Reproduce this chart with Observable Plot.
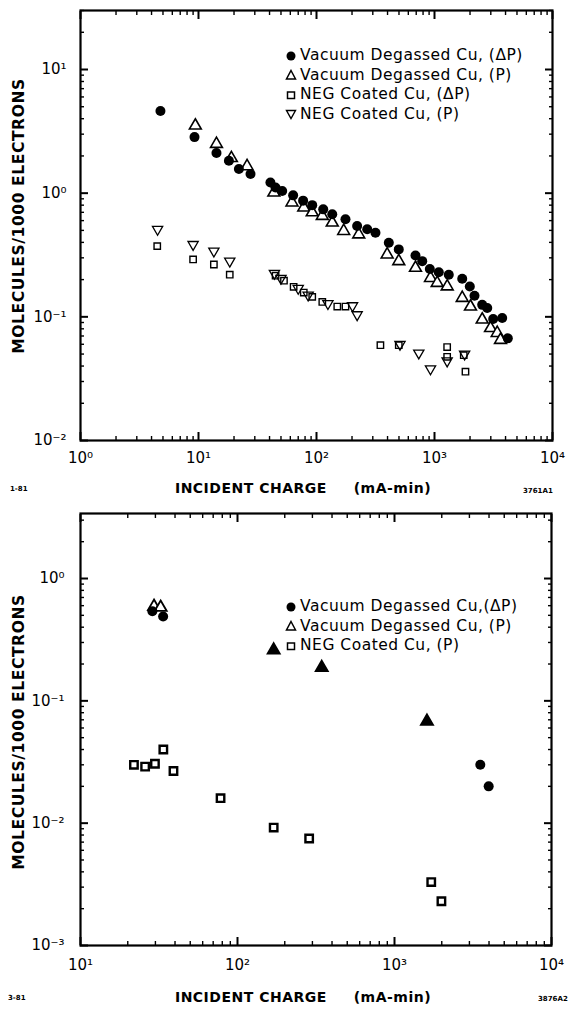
<!DOCTYPE html>
<html><head><meta charset="utf-8">
<script src="https://cdn.jsdelivr.net/npm/d3@7"></script>
<script src="https://cdn.jsdelivr.net/npm/@observablehq/plot@0.6"></script>
<style>
body{margin:0;background:#fff;}
#wrap{position:relative;width:569px;height:1010px;overflow:hidden;font-family:"DejaVu Sans",sans-serif;color:#000;background:#fff}
.panel{position:absolute;left:0}
.legend{position:absolute;font-size:15.5px;letter-spacing:0.5px;line-height:19.5px;white-space:nowrap}
.legend div{display:flex;align-items:center}
.legend svg{margin-right:3px;flex:none}
.ytitle{position:absolute;font-weight:bold;font-size:15.5px;letter-spacing:0.6px;white-space:nowrap;transform:translate(-50%,-50%) rotate(-90deg)}
.xtitle{position:absolute;font-weight:bold;font-size:14px;letter-spacing:0.5px;white-space:pre;transform:translate(-50%,-50%)}
.tag{position:absolute;font-size:7px;font-weight:bold;transform:translate(0,-50%)}
</style></head>
<body><div id="wrap"></div>
<script>
// ---------- data: top panel ----------
const topVacDeltaP = [[4.76,4.62],[9.25,2.84],[14.2,2.11],[18.1,1.83],[22.0,1.57],[27.6,1.43],[40.7,1.22],[44.9,1.11],[51.2,1.04],[63.4,0.96],[77,0.87],[92,0.80],[114,0.74],[136,0.675],[176,0.615],[221,0.542],[269,0.51],[316,0.479],[410,0.397],[498,0.351],[690,0.313],[787,0.282],[913,0.244],[1087,0.229],[1321,0.219],[1718,0.203],[1992,0.176],[2183,0.148],[2537,0.125],[2798,0.118],[3142,0.096],[3748,0.098],[4180,0.067]];
const topVacP = [[9.4,3.52],[14.2,2.50],[19,1.92],[25.8,1.65],[43.5,1.01],[62,0.84],[78,0.765],[92,0.70],[112,0.654],[136,0.578],[170,0.494],[228,0.464],[397,0.319],[498,0.282],[690,0.249],[925,0.206],[1054,0.188],[1282,0.176],[1718,0.142],[2018,0.121],[2537,0.095],[2985,0.081],[3400,0.074],[3625,0.065]];
const topNegDeltaP = [[4.47,0.373],[9.0,0.291],[13.5,0.265],[18.4,0.219],[45,0.215],[53,0.196],[64,0.175],[78,0.157],[92,0.145],[112,0.132],[150,0.121],[176,0.121],[348,0.059],[498,0.059],[1280,0.057],[1280,0.0475],[1770,0.049],[1830,0.036]];
const topNegP = [[4.5,0.51],[9.0,0.385],[13.5,0.34],[18.4,0.282],[44,0.225],[50,0.205],[70,0.17],[85,0.15],[125,0.128],[202,0.123],[221,0.104],[510,0.06],[736,0.051],[925,0.038],[1280,0.044],[1800,0.05]];
// ---------- data: bottom panel ----------
const botVacDeltaP = [[28.7,0.54],[33.6,0.49],[3520,0.030],[3980,0.020]];
const botVacP = [[29.4,0.59],[32.4,0.58],[170,0.26],[344,0.187],[1610,0.068]];
const botNegP = [[21.9,0.030],[25.8,0.029],[29.8,0.0306],[33.7,0.040],[39.1,0.0267],[78,0.016],[170,0.0092],[286,0.0075],[1714,0.0033],[1990,0.0023]];
// ---------- labels ----------
const topLegend = ["Vacuum Degassed Cu, (ΔP)","Vacuum Degassed Cu, (P)","NEG Coated Cu, (ΔP)","NEG Coated Cu, (P)"];
const botLegend = ["Vacuum Degassed Cu,(ΔP)","Vacuum Degassed Cu, (P)","NEG Coated Cu, (P)"];
const xTitle = "INCIDENT CHARGE     (mA-min)";
const yTitle = "MOLECULES/1000 ELECTRONS";
const topXTicks = [1,10,100,1000,10000];
const topYTicks = [0.01,0.1,1,10];
const botXTicks = [10,100,1000,10000];
const botYTicks = [0.001,0.01,0.1,1];

const sup = {"-":"⁻","0":"⁰","1":"¹","2":"²","3":"³","4":"⁴"};
const fmt = d => "10" + String(Math.round(Math.log10(d))).split("").map(c => sup[c]).join("");
const minor = (lo, hi) => { const out=[]; for (let e=lo; e<hi; e++) for (let m=2;m<=9;m++) out.push(m*10**e); return out; };

const sqrt3 = Math.sqrt(3);
const triangleDown = {draw(ctx, size){ const y = -Math.sqrt(size/(sqrt3*3)); ctx.moveTo(0,-y*2); ctx.lineTo(-sqrt3*y, y); ctx.lineTo(sqrt3*y, y); ctx.closePath(); }};

function frameAxes(xTicks, yTicks, xMinor, yMinor, xPad, yPad) {
  const m = [];
  const maj = 8, mn = 4;
  const none = () => "";
  // inward ticks: outward axis ticks shifted back inside the frame
  m.push(Plot.axisX(xTicks, {anchor:"bottom", tickSize:maj, dy:-maj, strokeWidth:2, tickFormat:none}));
  m.push(Plot.axisX(xTicks, {anchor:"top", tickSize:maj, dy:maj, strokeWidth:2, tickFormat:none}));
  m.push(Plot.axisX(xMinor, {anchor:"bottom", tickSize:mn, dy:-mn, strokeWidth:1.4, tickFormat:none}));
  m.push(Plot.axisX(xMinor, {anchor:"top", tickSize:mn, dy:mn, strokeWidth:1.4, tickFormat:none}));
  m.push(Plot.axisY(yTicks, {anchor:"left", tickSize:maj, dx:maj, strokeWidth:2, tickFormat:none}));
  m.push(Plot.axisY(yTicks, {anchor:"right", tickSize:maj, dx:-maj, strokeWidth:2, tickFormat:none}));
  m.push(Plot.axisY(yMinor, {anchor:"left", tickSize:mn, dx:mn, strokeWidth:1.4, tickFormat:none}));
  m.push(Plot.axisY(yMinor, {anchor:"right", tickSize:mn, dx:-mn, strokeWidth:1.4, tickFormat:none}));
  m.push(Plot.axisX(xTicks, {anchor:"bottom", tickSize:0, tickPadding:xPad, tickFormat:fmt, fontSize:15}));
  m.push(Plot.axisY(yTicks, {anchor:"left", tickSize:0, tickPadding:yPad, tickFormat:fmt, fontSize:15}));
  m.push(Plot.frame({stroke:"black", strokeWidth:2.2}));
  return m;
}

const wrap = document.getElementById("wrap");
const style = {fontFamily:"DejaVu Sans, sans-serif", color:"black", background:"white", overflow:"visible"};

const topPlot = Plot.plot({
  width:569, height:500, marginLeft:80, marginRight:17, marginTop:10, marginBottom:60,
  x:{type:"log", domain:[1,1e4], axis:null}, y:{type:"log", domain:[0.01,30], axis:null},
  style,
  marks:[
    ...frameAxes(topXTicks, topYTicks, minor(0,4), minor(-2,2).filter(v => v <= 30), 12, 14),
    Plot.dot(topNegDeltaP, {x:d=>d[0], y:d=>d[1], symbol:"square", r:3.6, stroke:"black", strokeWidth:1.4, fill:"white"}),
    Plot.dot(topNegP, {x:d=>d[0], y:d=>d[1], symbol:triangleDown, r:3.8, stroke:"black", strokeWidth:1.3, fill:"none"}),
    Plot.dot(topVacP, {x:d=>d[0], y:d=>d[1], symbol:"triangle", r:4.4, stroke:"black", strokeWidth:1.6, fill:"white"}),
    Plot.dot(topVacDeltaP, {x:d=>d[0], y:d=>d[1], r:5, fill:"black", stroke:"none"})
  ]
});
topPlot.classList.add("panel"); topPlot.style.top = "0px";
wrap.appendChild(topPlot);

const botPlot = Plot.plot({
  width:569, height:510, marginLeft:80, marginRight:18, marginTop:13, marginBottom:65,
  x:{type:"log", domain:[10,1e4], axis:null}, y:{type:"log", domain:[0.001,3.4], axis:null},
  style,
  marks:[
    ...frameAxes(botXTicks, botYTicks, minor(1,4), minor(-3,1).filter(v => v <= 3.4), 14, 16),
    Plot.dot(botNegP, {x:d=>d[0], y:d=>d[1], symbol:"square", r:4.2, stroke:"black", strokeWidth:2.4, fill:"white"}),
    Plot.dot(botVacP, {x:d=>d[0], y:d=>d[1], symbol:"triangle", r:4.5, stroke:"black", strokeWidth:1.8, fill:d => d[0] > 100 ? "black" : "white"}),
    Plot.dot(botVacDeltaP, {x:d=>d[0], y:d=>d[1], r:5, fill:"black", stroke:"none"})
  ]
});
botPlot.classList.add("panel"); botPlot.style.top = "500px";
wrap.appendChild(botPlot);

// ---------- legends ----------
const sym = {
  circle:'<circle cx="6" cy="6" r="4.5" fill="black"/>',
  tri:'<path d="M6,1.5 L10.5,10 L1.5,10 Z" fill="none" stroke="black" stroke-width="1.5"/>',
  sq:'<rect x="2.5" y="3" width="7" height="6.5" fill="none" stroke="black" stroke-width="1.5"/>',
  tridown:'<path d="M1.5,2.5 L10.5,2.5 L6,10.5 Z" fill="none" stroke="black" stroke-width="1.4"/>'
};
function legend(items, symbols, left, topPx) {
  const el = document.createElement("div");
  el.className = "legend"; el.style.left = left+"px"; el.style.top = topPx+"px";
  el.innerHTML = items.map((t,i) => `<div><svg width="12" height="12">${sym[symbols[i]]}</svg><span>${t}</span></div>`).join("");
  wrap.appendChild(el);
}
legend(topLegend, ["circle","tri","sq","tridown"], 285, 46);
legend(botLegend, ["circle","tri","sq"], 285, 597);

function addText(cls, text, x, y) {
  const el = document.createElement("div");
  el.className = cls; el.textContent = text; el.style.left = x+"px"; el.style.top = y+"px";
  wrap.appendChild(el);
}
addText("ytitle", yTitle, 19, 216);
addText("ytitle", yTitle, 19, 732);
addText("xtitle", xTitle, 303, 488);
addText("xtitle", xTitle, 303, 997);
addText("tag", "1-81", 10, 489);
addText("tag", "3761A1", 523, 491);
addText("tag", "3-81", 8, 998);
addText("tag", "3876A2", 538, 999);
</script></body></html>
